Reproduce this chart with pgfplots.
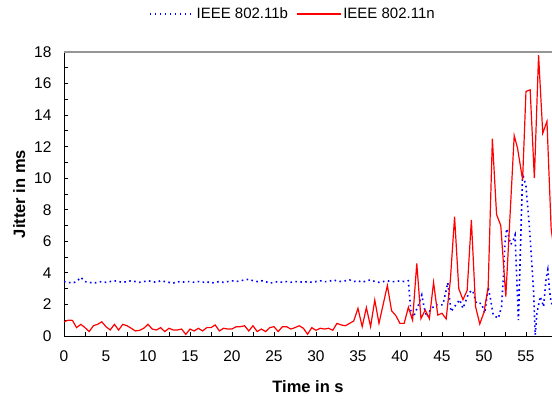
\documentclass[border=0pt]{standalone}
\usepackage{fontspec}
\setmainfont{Liberation Sans}
\usepackage{pgfplots}
\pgfplotsset{compat=1.18}
\definecolor{bline}{RGB}{0,0,255}
\definecolor{rline}{RGB}{255,0,0}
\definecolor{topgray}{RGB}{150,150,150}

\begin{document}
\begin{tikzpicture}[x=1pt,y=1pt]
\useasboundingbox (0,0) rectangle (552,401);
\begin{axis}[
    at={(64pt,65pt)}, anchor=origin,
    width=488pt, height=284pt, scale only axis,
    xmin=0, xmax=58.1, ymin=0, ymax=18,
    axis x line*=bottom, axis y line*=left,
    xtick={0,5,...,55}, ytick={0,2,...,18},
    minor x tick num=1, minor y tick num=1,
    tick align=inside,
    major tick length=4pt, minor tick length=4pt,
    tick style={black, line width=0.8pt},
    axis line style={black, line width=0.9pt},
    font=\fontsize{15.5pt}{17pt}\selectfont,
    /pgf/number format/assume math mode=true,
    xticklabel style={yshift=-11pt},
    yticklabel style={xshift=-9pt},
    xlabel={\bfseries Time in s},
    ylabel={\bfseries Jitter in ms},
    label style={font=\fontsize{16.5pt}{18pt}\selectfont},
    xlabel style={yshift=-12pt},
    ylabel style={yshift=2pt},
    clip=true,
    legend columns=2,
    legend style={at={(0.469,1.134)}, anchor=center, draw=none, fill=none,
        font=\fontsize{15pt}{17pt}\selectfont,
        /tikz/every even column/.append style={column sep=6pt}},
    legend image code/.code={\draw[#1] (0pt,0pt) -- (44pt,0pt);},
]
\addplot[bline, line width=1.6pt, dash pattern=on 1.6pt off 3.4pt] coordinates {
(0,3.45) (0.5,3.4) (1,3.35) (1.5,3.45) (2,3.72) (2.5,3.45) (3,3.4) (3.5,3.35)
(4,3.4) (4.5,3.45) (5,3.4) (5.5,3.45) (6,3.5) (6.5,3.45) (7,3.4) (7.5,3.45)
(8,3.5) (8.5,3.45) (9,3.4) (9.5,3.45) (10,3.5) (10.5,3.45) (11,3.4) (11.5,3.5)
(12,3.45) (12.5,3.4) (13,3.35) (13.5,3.45) (14,3.4) (14.5,3.45) (15,3.45) (15.5,3.4)
(16,3.45) (16.5,3.4) (17,3.45) (17.5,3.35) (18,3.4) (18.5,3.45) (19,3.4) (19.5,3.45)
(20,3.5) (20.5,3.45) (21,3.5) (21.5,3.55) (22,3.6) (22.5,3.5) (23,3.45) (23.5,3.5)
(24,3.45) (24.5,3.35) (25,3.4) (25.5,3.45) (26,3.4) (26.5,3.45) (27,3.4) (27.5,3.45)
(28,3.45) (28.5,3.4) (29,3.45) (29.5,3.4) (30,3.45) (30.5,3.5) (31,3.45) (31.5,3.45)
(32,3.55) (32.5,3.5) (33,3.45) (33.5,3.5) (34,3.55) (34.5,3.45) (35,3.5) (35.5,3.4)
(36,3.5) (36.5,3.55) (37,3.45) (37.5,3.4) (38,3.45) (38.5,3.5) (39,3.45) (39.5,3.45)
(40,3.5) (40.5,3.45) (41,3.5)
(41.3,1.55) (41.6,1.2) (42.2,1.97) (42.6,2.6) (42.9,1.75) (43.2,1.2) (43.6,1.65)
(44.2,1.97) (44.7,1.97) (45.1,1.97) (45.5,2.9) (45.7,3.38) (46.07,1.55) (46.5,1.86)
(47.1,2.3) (47.5,1.75) (48.1,2.6) (48.5,2.9) (48.7,2.8) (49.1,2.07) (49.7,2.07)
(50.1,1.44) (50.5,3.1) (50.8,2.28) (51.1,1.33) (51.7,1.12) (52.1,1.86) (52.3,3.66)
(52.5,5.87) (52.7,6.8) (52.9,6.4) (53.2,5.8) (53.5,6.1) (53.7,6.4) (54.1,1.0)
(54.6,10.3) (55.0,9.5) (55.4,7.0) (55.9,2.9) (56.1,0.06) (56.3,1.44) (56.7,2.5)
(57.1,1.86) (57.4,3.66) (57.6,4.2) (57.8,2.9) (58.0,2.1) (58.2,2.0)
};
\addlegendentry{IEEE 802.11b}
\addplot[rline, line width=1.2pt] coordinates {
(0,0.9) (0.5,1.0) (1,0.99) (1.5,0.53) (2,0.74) (2.5,0.53) (3,0.28) (3.5,0.65)
(4,0.74) (4.5,0.9) (5,0.59) (5.5,0.38) (6,0.74) (6.5,0.38) (7,0.74) (7.5,0.65)
(8,0.49) (8.5,0.32) (9,0.36) (9.5,0.49) (10,0.74) (10.5,0.44) (11,0.38) (11.5,0.53)
(12,0.28) (12.5,0.49) (13,0.38) (13.5,0.38) (14,0.44) (14.5,0.1) (15,0.44) (15.5,0.32)
(16,0.49) (16.5,0.32) (17,0.53) (17.5,0.53) (18,0.7) (18.5,0.32) (19,0.49) (19.5,0.44)
(20,0.44) (20.5,0.59) (21,0.59) (21.5,0.65) (22,0.32) (22.5,0.65) (23,0.28) (23.5,0.44)
(24,0.28) (24.5,0.53) (25,0.59) (25.5,0.28) (26,0.59) (26.5,0.59) (27,0.44) (27.5,0.53)
(28,0.65) (28.5,0.49) (29,0.11) (29.5,0.53) (30,0.36) (30.5,0.49) (31,0.44) (31.5,0.49)
(32,0.36) (32.5,0.8) (33,0.7) (33.5,0.65) (34,0.8) (34.5,0.95) (35,1.75) (35.5,0.59)
(36,1.8) (36.5,0.59) (37,2.28) (37.5,0.8) (38.5,3.2) (39,1.6) (39.5,1.3) (40,0.8)
(40.5,0.8) (41,1.82) (41.5,1.0) (42,4.6) (42.5,1.1) (43,1.65) (43.5,1.1) (44,3.4)
(44.5,1.33) (45,1.44) (45.5,1.08) (46,3.55) (46.5,7.56) (47,3.0) (47.5,2.3) (48,2.9)
(48.5,7.35) (49,1.86) (49.5,0.76) (50,1.5) (50.5,3.1) (51,12.5) (51.5,7.7) (52,7.0)
(52.6,2.5) (53.6,12.7) (54,11.9) (54.6,9.9) (55,15.5) (55.5,15.6) (56,10.0) (56.5,17.8)
(57,12.85) (57.5,13.6) (58,6.8) (58.2,6.0)
};
\addlegendentry{IEEE 802.11n}
\draw[topgray, line width=1.2pt] (axis cs:0,18) -- (axis cs:58.1,18);
\end{axis}
\end{tikzpicture}
\end{document}
